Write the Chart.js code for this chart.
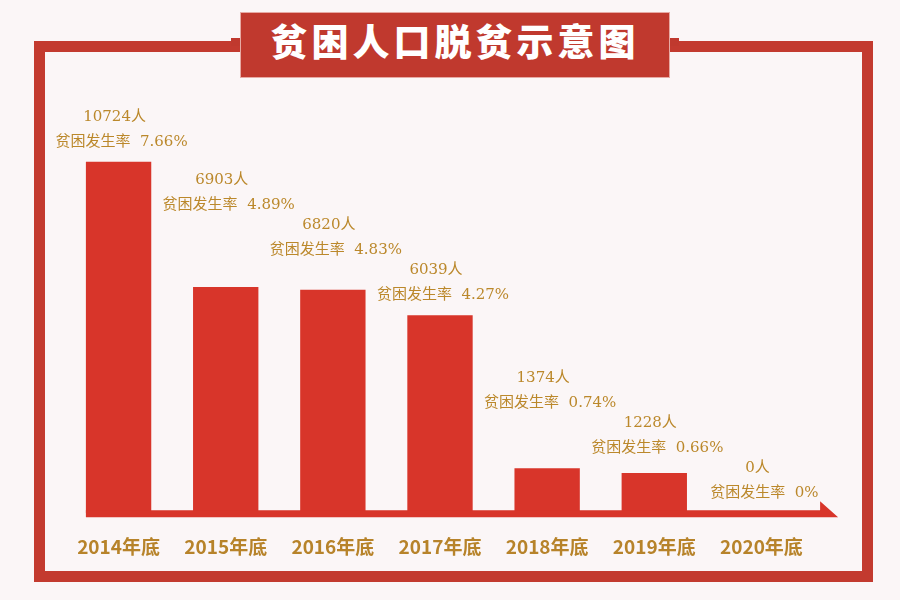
<!DOCTYPE html>
<html>
<head>
<meta charset="utf-8">
<script src="https://cdn.jsdelivr.net/npm/chart.js@4"></script>
<style>
  body { margin: 0; background: #fbf6f7; }
  #wrap { position: relative; width: 900px; height: 600px; overflow: hidden; }
  #frame { position: absolute; left: 34px; top: 41px; width: 817px; height: 519px; border: 11px solid #c33a2f; }
  #banner { position: absolute; left: 240px; top: 12px; width: 428px; height: 64px; background: #c0392e;
    border: 1px solid #e7aaa4; color: #fff; text-align: center; line-height: 64px;
    font: 900 37px "Noto Sans CJK SC", sans-serif; letter-spacing: 4px; }
  .nub { position: absolute; top: 38px; width: 10px; height: 8px; background: #c0392e; }
  canvas { position: absolute; left: 0; top: 0; }
</style>
</head>
<body>
<div id="wrap">
  <div id="frame"></div>
  <div class="nub" style="left:231px"></div>
  <div class="nub" style="left:669px"></div>
  <div id="banner">贫困人口脱贫示意图</div>
  <canvas id="chart" width="900" height="600"></canvas>
</div>
<script>
const categories = ['2014年底', '2015年底', '2016年底', '2017年底', '2018年底', '2019年底', '2020年底'];
const population = [10724, 6903, 6820, 6039, 1374, 1228, 0];
const rates = ['7.66', '4.89', '4.83', '4.27', '0.74', '0.66', '0'];

// baseline band with arrow + labels above bars
const decor = {
    id: 'decor',
    afterDatasetsDraw(chart) {
        const c = chart.ctx;
        const meta = chart.getDatasetMeta(0);
        const y = chart.chartArea.bottom;
        const first = meta.data[0], last = meta.data[meta.data.length - 1];
        const x0 = first.x - first.width / 2;
        const x1 = last.x + last.width / 2 + 26;
        c.save();
        c.fillStyle = '#d8352a';
        c.beginPath();
        c.moveTo(x0, y - 3);
        c.lineTo(x1, y - 3);
        c.lineTo(x1, y - 12);
        c.lineTo(x1 + 18, y + 4);
        c.lineTo(x0, y + 4);
        c.closePath();
        c.fill();

        // labels overlap their neighbours, so stack them from the right
        const rateY = [];
        for (let i = meta.data.length - 1; i >= 0; i--) {
            let ly = meta.data[i].y - 20;
            if (i < meta.data.length - 1) ly = Math.min(ly, rateY[i + 1] - 45);
            rateY[i] = ly;
        }

        c.fillStyle = '#bb882b';
        c.textAlign = 'center';
        c.textBaseline = 'middle';
        c.font = '15px "DejaVu Serif", "Noto Sans CJK SC", serif';
        meta.data.forEach((bar, i) => {
            c.fillText(population[i] + '人', bar.x - 4, rateY[i] - 25);
            c.fillText('贫困发生率  ' + rates[i] + '%', bar.x + 3, rateY[i]);
        });
        c.restore();
    }
};

new Chart(document.getElementById('chart').getContext('2d'), {
    type: 'bar',
    data: {
        labels: categories,
        datasets: [{
            data: population,
            backgroundColor: '#d8352a',
            categoryPercentage: 1,
            barPercentage: 0.61
        }]
    },
    options: {
        responsive: false,
        animation: false,
        layout: { padding: { left: 65, right: 85, top: 120, bottom: 20 } },
        plugins: { legend: { display: false }, tooltip: { enabled: false } },
        scales: {
            x: {
                grid: { display: false, drawTicks: false },
                border: { display: false },
                ticks: {
                    padding: 22,
                    color: '#b7832a',
                    font: { family: '"Noto Sans CJK SC", sans-serif', size: 19, weight: 'bold' }
                }
            },
            y: { display: false, min: 0, max: 12000 }
        }
    },
    plugins: [decor]
});
</script>
</body>
</html>
